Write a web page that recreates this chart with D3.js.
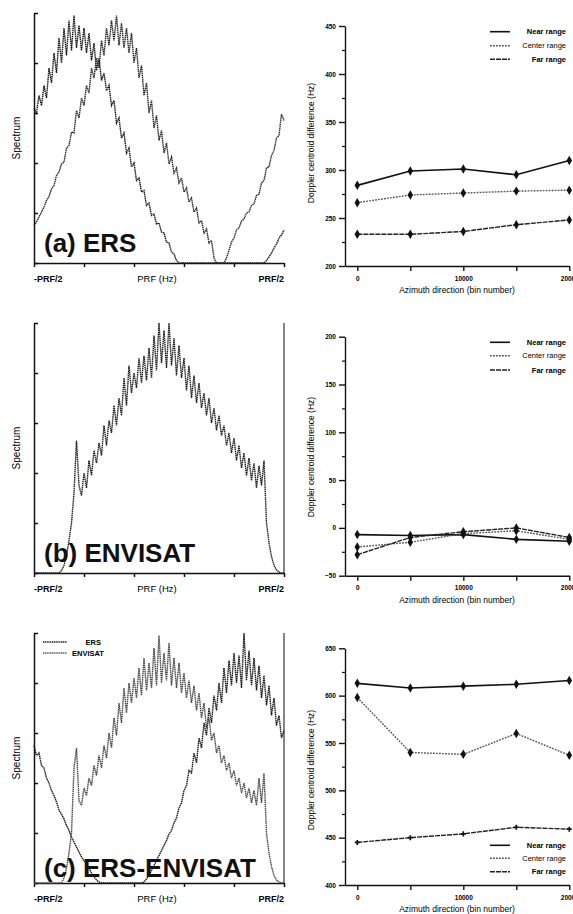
<!DOCTYPE html>
<html>
<head>
<meta charset="utf-8">
<script src="https://cdn.jsdelivr.net/npm/d3@7"></script>
<style>
  body { margin: 0; background: #fff; }
  svg { display: block; font-family: "Liberation Sans", Arial, sans-serif; }
</style>
</head>
<body>
<div id="chart"></div>
<script>
// spectra sampled at 101 points across -PRF/2 .. PRF/2
const ersA1 = [3.1,3.0,3.35,3.15,3.55,3.3,3.9,3.6,4.2,3.8,4.5,4.0,4.7,4.15,4.85,4.25,4.95,4.3,4.75,4.25,
  4.7,4.2,4.6,4.05,4.4,3.85,4.1,3.65,3.8,3.45,3.55,3.15,3.25,2.8,2.9,2.5,2.6,2.2,2.3,1.92,
  2.0,1.65,1.7,1.42,1.45,1.15,1.2,0.95,0.98,0.78,0.8,0.62,0.6,0.42,0.4,0.22,0.18,0.05,0,0,
  0,0,0,0,0,0,0,0,0,0,0,0,0,0,0,0,0,0,0,0,
  0,0,0,0,0,0,0,0,0,0,0,0,0,0.05,0.12,0.2,0.3,0.38,0.5,0.56,0.66];

const ersA2 = [0.75,0.82,0.92,1.02,1.12,1.25,1.33,1.48,1.55,1.75,1.82,1.98,2.02,2.3,2.35,2.62,2.6,3.05,2.9,3.3,
  3.15,3.55,3.4,3.9,3.7,4.1,3.9,4.45,4.15,4.7,4.35,4.85,4.45,4.95,4.35,4.8,4.3,4.7,4.2,4.6,
  4.0,4.3,3.7,3.95,3.35,3.6,3.0,3.25,2.7,2.95,2.45,2.65,2.2,2.4,1.98,2.12,1.8,1.9,1.6,1.7,
  1.42,1.5,1.22,1.3,1.02,1.1,0.8,0.85,0.6,0.68,0.4,0.45,0.1,0,0,0,0,0.1,0.25,0.42,
  0.5,0.66,0.7,0.84,0.88,1.0,1.02,1.15,1.18,1.35,1.38,1.6,1.65,1.9,1.92,2.15,2.25,2.5,2.55,2.98,2.85];

const envB = [0,0,0,0,0,0,0,0,0,0,0,0.05,0.15,0.35,0.65,1.0,1.6,2.65,1.75,1.55,
  2.0,1.7,2.25,1.95,2.45,2.2,2.6,2.35,2.95,2.55,3.05,2.8,3.35,2.95,3.5,3.15,3.9,3.35,4.15,3.6,
  4.0,3.7,4.3,3.8,4.35,3.85,4.5,3.9,4.75,4.05,5.0,4.2,4.85,4.1,5.0,4.15,4.7,3.95,4.55,3.9,
  4.3,3.65,4.15,3.5,3.95,3.4,3.8,3.3,3.6,3.15,3.5,3.0,3.3,2.85,3.15,2.75,2.95,2.55,2.8,2.4,
  2.7,2.25,2.55,2.1,2.4,1.95,2.3,1.85,2.2,1.7,2.15,1.75,2.25,1.0,0.6,0.33,0.15,0.06,0.02,0,0];

const ersC = [2.75,2.55,2.6,2.35,2.3,2.1,2.0,1.85,1.75,1.62,1.45,1.38,1.28,1.15,1.05,0.92,0.82,0.72,0.62,0.52,
  0.45,0.38,0.3,0.2,0.12,0.06,0.02,0,0,0,0,0,0,0,0,0,0,0,0,0,
  0,0,0,0,0.02,0.08,0.15,0.25,0.35,0.45,0.55,0.65,0.75,0.85,0.98,1.05,1.2,1.3,1.5,1.6,
  1.85,1.95,2.25,2.2,2.6,2.4,2.9,2.7,3.2,2.95,3.5,3.2,3.75,3.45,4.0,3.6,4.3,3.8,4.45,3.95,
  4.6,4.0,4.55,3.9,5.0,4.05,4.65,3.95,4.5,3.85,4.35,3.7,4.15,3.55,3.95,3.35,3.7,3.15,3.35,2.9,3.05];

const envC = [0,0,0,0,0,0,0,0,0,0,0,0,0.1,0.3,0.6,1.0,2.3,2.7,1.65,1.55,
  1.9,1.75,2.1,1.95,2.35,2.15,2.55,2.3,2.75,2.5,3.0,2.7,3.3,2.95,3.6,3.2,3.9,3.4,4.0,3.6,
  4.1,3.7,4.3,3.75,4.5,3.85,4.4,3.9,4.7,3.95,4.95,4.0,4.6,4.05,4.8,3.95,4.5,3.9,4.4,3.8,
  4.2,3.7,4.05,3.6,3.95,3.45,3.8,3.3,3.6,3.1,3.3,2.85,3.0,2.6,2.75,2.4,2.55,2.25,2.4,2.1,
  2.25,1.95,2.1,1.8,2.0,1.7,1.9,1.6,1.85,1.55,2.1,1.6,2.2,1.0,0.6,0.33,0.15,0.06,0.02,0,0];

// doppler centroid difference vs azimuth bin
const azimuth = [0, 5000, 10000, 15000, 20000];
const rangeNames = ["Near range", "Center range", "Far range"];

const nearA = [284, 299, 301, 295, 310];
const centerA = [266, 274, 276, 278, 279];
const farA = [233, 233, 236, 243, 248];

const nearB = [-7, -8, -7, -12, -14];
const centerB = [-20, -15, -6, -3, -12];
const farB = [-28, -10, -4, 0, -10];

const nearC = [613, 608, 610, 612, 616];
const centerC = [598, 540, 538, 560, 537];
const farC = [445, 450, 454, 461, 459];

const W = 573, H = 914;
const svg = d3.select("#chart").append("svg")
  .attr("width", W).attr("height", H);

// ---------- left spectrum panels ----------
function spectrumPanel(opt) {
  const x = d3.scaleLinear().domain([0, 100]).range([34, 284]);
  const y = d3.scaleLinear().domain([0, 5]).range([opt.bottom, opt.top]);
  const g = svg.append("g");

  g.append("g")
    .attr("transform", `translate(0,${opt.bottom})`)
    .call(d3.axisBottom(x).tickValues([0, 20, 40, 60, 80, 100]).tickSize(4).tickSizeOuter(0).tickFormat(""))
    .call(a => a.selectAll("path,line").attr("stroke", "#111").attr("stroke-width", 1.5));

  g.append("g")
    .attr("transform", "translate(34,0)")
    .call(d3.axisLeft(y).tickValues([0, 1, 2, 3, 4, 5]).tickSize(-4).tickSizeOuter(0).tickFormat(""))
    .call(a => a.selectAll("path,line").attr("stroke", "#111").attr("stroke-width", 1.5));

  if (opt.box) {
    g.append("line")
      .attr("x1", x(100)).attr("x2", x(100))
      .attr("y1", y(5)).attr("y2", y(0))
      .attr("stroke", "#333").attr("stroke-width", 1.2);
  }

  const line = d3.line().x((d, i) => x(i)).y(d => y(d));
  opt.series.forEach(s => {
    g.append("path")
      .datum(s.values)
      .attr("fill", "none")
      .attr("stroke", s.color)
      .attr("stroke-width", 1.4)
      .attr("stroke-dasharray", "1.5,0.6")
      .attr("d", line);
  });

  const ly = opt.bottom + 19;
  g.append("text").attr("x", x(0)).attr("y", ly).attr("font-size", 9).attr("font-weight", "bold")
    .attr("text-anchor", "start").text("-PRF/2");
  g.append("text").attr("x", 157).attr("y", ly).attr("font-size", 9.5)
    .attr("text-anchor", "middle").text("PRF (Hz)");
  g.append("text").attr("x", x(100)).attr("y", ly).attr("font-size", 9).attr("font-weight", "bold")
    .attr("text-anchor", "end").text("PRF/2");

  g.append("text")
    .attr("transform", `translate(20,${(opt.top + opt.bottom) / 2}) rotate(-90)`)
    .attr("text-anchor", "middle").attr("font-size", 10)
    .text("Spectrum");

  g.append("text")
    .attr("x", 44).attr("y", opt.labelY)
    .attr("font-size", 26).attr("font-weight", "bold")
    .attr("fill", "#111")
    .text(opt.label);
  return g;
}

spectrumPanel({
  top: 13, bottom: 263, label: "(a) ERS", labelY: 252, box: false,
  series: [{ values: ersA1, color: "#1a1a1a" }, { values: ersA2, color: "#2a2a2a" }]
});

spectrumPanel({
  top: 323, bottom: 573, label: "(b) ENVISAT", labelY: 562, box: true,
  series: [{ values: envB, color: "#222" }]
});

const gc = spectrumPanel({
  top: 633, bottom: 883, label: "(c) ERS-ENVISAT", labelY: 877, box: true,
  series: [{ values: ersC, color: "#1a1a1a" }, { values: envC, color: "#4a4a4a" }]
});

// legend of panel (c)
[["ERS", "#1a1a1a", 642, "end", 101], ["ENVISAT", "#555", 653, "start", 72]].forEach(d => {
  gc.append("line").attr("x1", 43).attr("x2", 67).attr("y1", d[2]).attr("y2", d[2])
    .attr("stroke", d[1]).attr("stroke-width", 1.5).attr("stroke-dasharray", "1.2,0.6");
  gc.append("text").attr("x", d[4]).attr("y", d[2] + 3).attr("font-size", 7.5)
    .attr("font-weight", "bold").attr("text-anchor", d[3]).text(d[0]);
});

// ---------- right doppler panels ----------
const styles = [
  { color: "#111", dash: null, width: 1.6 },
  { color: "#555", dash: "1.8,1.2", width: 1.4 },
  { color: "#222", dash: "5,1", width: 1.4 }
];

function dopplerPanel(opt) {
  const x = d3.scaleLinear().domain([-1160, 20000]).range([345, 569.3]);
  const y = d3.scaleLinear().domain(opt.domain).range([opt.bottom, opt.top]);
  const g = svg.append("g");

  const majors = d3.range(opt.domain[0], opt.domain[1] + 1, 50);
  const minors = d3.range(opt.domain[0] + 25, opt.domain[1], 50);

  g.append("g")
    .attr("transform", "translate(345,0)")
    .call(d3.axisLeft(y).tickValues(majors).tickSize(6).tickSizeOuter(0).tickPadding(3))
    .call(a => a.selectAll("path,line").attr("stroke", "#111").attr("stroke-width", 1.4))
    .call(a => a.selectAll("text").attr("font-size", 6.5).attr("font-weight", "bold")
      .attr("font-family", "Liberation Sans, Arial, sans-serif"));

  g.append("g")
    .attr("transform", "translate(345,0)")
    .call(d3.axisLeft(y).tickValues(minors).tickSize(3).tickFormat(""))
    .call(a => a.select(".domain").remove())
    .call(a => a.selectAll("line").attr("stroke", "#111").attr("stroke-width", 1.2));

  g.append("g")
    .attr("transform", `translate(0,${opt.bottom})`)
    .call(d3.axisBottom(x).tickValues(azimuth).tickSize(5).tickSizeOuter(0).tickPadding(5)
      .tickFormat(d => d % 10000 === 0 ? d : ""))
    .call(a => a.selectAll("path,line").attr("stroke", "#111").attr("stroke-width", 1.4))
    .call(a => a.selectAll("text").attr("font-size", 6.5).attr("font-weight", "bold")
      .attr("font-family", "Liberation Sans, Arial, sans-serif"));

  g.append("text")
    .attr("x", 457).attr("y", opt.bottom + 27)
    .attr("text-anchor", "middle").attr("font-size", 8.5)
    .text("Azimuth direction (bin number)");

  g.append("text")
    .attr("transform", `translate(314,${opt.titleY}) rotate(-90)`)
    .attr("text-anchor", "middle").attr("font-size", 8.5)
    .text("Doppler centroid difference (Hz)");

  const line = d3.line().x((d, i) => x(azimuth[i])).y(d => y(d));
  opt.series.forEach((vals, k) => {
    const st = styles[k];
    g.append("path")
      .datum(vals)
      .attr("fill", "none")
      .attr("stroke", st.color)
      .attr("stroke-width", st.width)
      .attr("stroke-dasharray", st.dash)
      .attr("d", line);
    const sym = opt.crossLast && k === 2 ? d3.symbolCross : d3.symbolDiamond;
    g.selectAll(null)
      .data(vals)
      .join("path")
      .attr("transform", (d, i) => `translate(${x(azimuth[i])},${y(d)})`)
      .attr("d", d3.symbol(sym, sym === d3.symbolCross ? 14 : 26))
      .attr("fill", "#111");
  });

  rangeNames.forEach((name, k) => {
    const ly = opt.legendY[k];
    const st = styles[k];
    g.append("line")
      .attr("x1", 490).attr("x2", 510).attr("y1", ly).attr("y2", ly)
      .attr("stroke", st.color).attr("stroke-width", st.width)
      .attr("stroke-dasharray", st.dash);
    g.append("text")
      .attr("x", 566).attr("y", ly + 2.5)
      .attr("text-anchor", "end").attr("font-size", 7.5)
      .attr("font-weight", k === 1 ? "normal" : "bold")
      .text(name);
  });
}

dopplerPanel({
  domain: [200, 450], top: 26, bottom: 266, titleY: 143,
  legendY: [31.7, 45.7, 59.3],
  series: [nearA, centerA, farA]
});

dopplerPanel({
  domain: [-50, 200], top: 336.7, bottom: 575.7, titleY: 457,
  legendY: [342.3, 355.7, 370],
  series: [nearB, centerB, farB]
});

dopplerPanel({
  domain: [400, 650], top: 648.3, bottom: 885, titleY: 770,
  legendY: [845.3, 858.3, 871.7], crossLast: true,
  series: [nearC, centerC, farC]
});
</script>
</body>
</html>
